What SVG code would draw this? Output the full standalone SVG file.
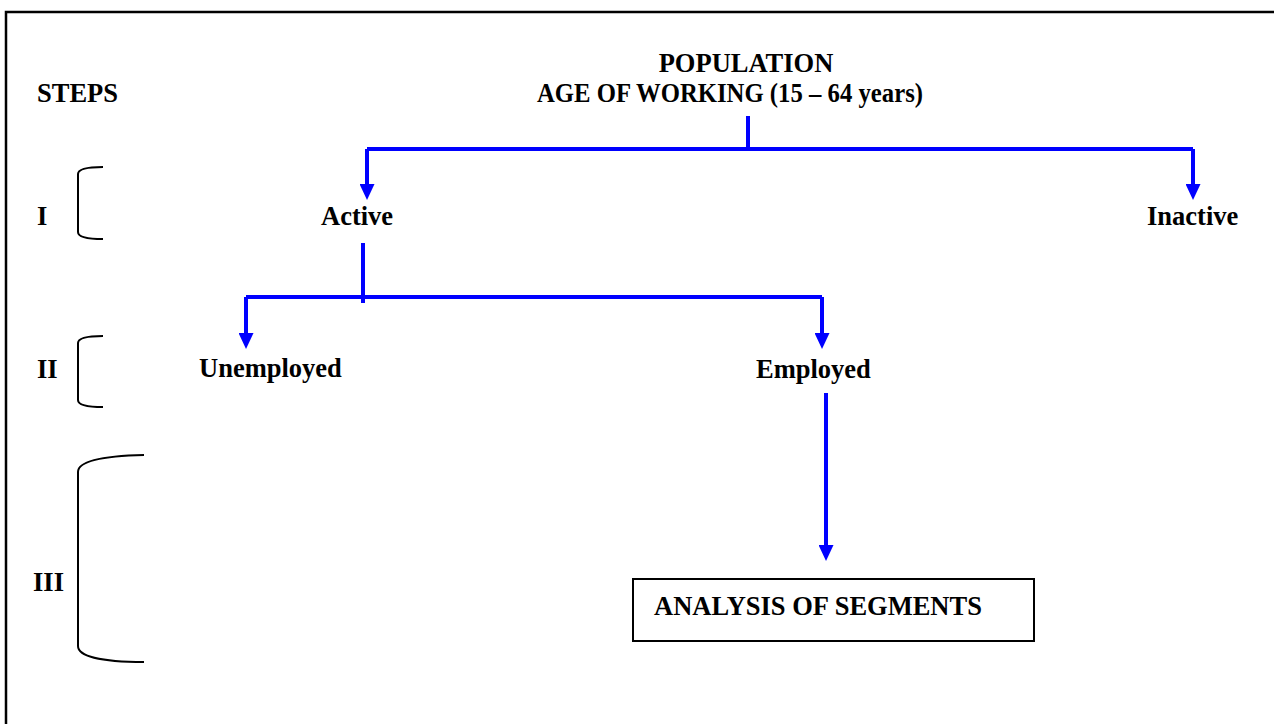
<svg xmlns="http://www.w3.org/2000/svg" width="1274" height="724" viewBox="0 0 1274 724">
  <style>
    .lbl { font-family: "Liberation Serif", "Times New Roman", serif; font-weight: bold; font-size: 26.5px; fill: #000; }
    .mid { text-anchor: middle; }
    .conn { fill: none; stroke: #0000ff; stroke-width: 4; }
    .brace { fill: none; stroke: #000; stroke-width: 2; }
  </style>
  <defs>
    <marker id="arrow" viewBox="0 0 16 15" refX="2" refY="7.5" markerWidth="16" markerHeight="15" markerUnits="userSpaceOnUse" orient="auto">
      <path d="M0,0 L16,7.5 L0,15 z" fill="#0000ff"/>
    </marker>
  </defs>
  <rect width="1274" height="724" fill="#fff"/>

  <!-- outer frame (open to the right and bottom) -->
  <path d="M6,740 L6,12 L1290,12" fill="none" stroke="#000" stroke-width="2.5"/>

  <!-- step labels and brackets -->
  <g id="steps">
    <text class="lbl" x="37" y="102">STEPS</text>
  </g>
  <g id="step-1">
    <text class="lbl" x="37" y="225">I</text>
    <path class="brace" d="M103,167 C86,167 78,169 78,174 L78,232 C78,237 86,239 103,239"/>
  </g>
  <g id="step-2">
    <text class="lbl" x="37" y="378">II</text>
    <path class="brace" d="M103,336 C86,336 78,338 78,343 L78,400 C78,405 86,407 103,407"/>
  </g>
  <g id="step-3">
    <text class="lbl" x="33" y="591">III</text>
    <path class="brace" d="M144,455 C100,456 78,462 78,472 L78,646 C78,656 100,662 144,662"/>
  </g>

  <!-- nodes -->
  <g id="population">
    <text class="lbl mid" x="746" y="72">POPULATION</text>
    <text class="lbl" x="537" y="102" textLength="386" lengthAdjust="spacingAndGlyphs">AGE OF WORKING (15 – 64 years)</text>
  </g>
  <g id="active">
    <text class="lbl" x="321" y="225">Active</text>
  </g>
  <g id="inactive">
    <text class="lbl" x="1147" y="225">Inactive</text>
  </g>
  <g id="unemployed">
    <text class="lbl" x="199" y="377">Unemployed</text>
  </g>
  <g id="employed">
    <text class="lbl" x="756" y="378">Employed</text>
  </g>
  <g id="analysis">
    <rect x="633" y="579" width="401" height="62" fill="#fff" stroke="#000" stroke-width="2"/>
    <text class="lbl" x="654" y="615">ANALYSIS OF SEGMENTS</text>
  </g>

  <!-- connectors -->
  <g id="connectors">
    <path class="conn" d="M748,116 L748,149"/>
    <path class="conn" d="M367,149 L1193,149"/>
    <path class="conn" d="M367,149 L367,186" marker-end="url(#arrow)"/>
    <path class="conn" d="M1193,149 L1193,186" marker-end="url(#arrow)"/>
    <path class="conn" d="M363,243 L363,303"/>
    <path class="conn" d="M246,297 L822,297"/>
    <path class="conn" d="M246,297 L246,335" marker-end="url(#arrow)"/>
    <path class="conn" d="M822,297 L822,335" marker-end="url(#arrow)"/>
    <path class="conn" d="M826,393 L826,547" marker-end="url(#arrow)"/>
  </g>
</svg>
